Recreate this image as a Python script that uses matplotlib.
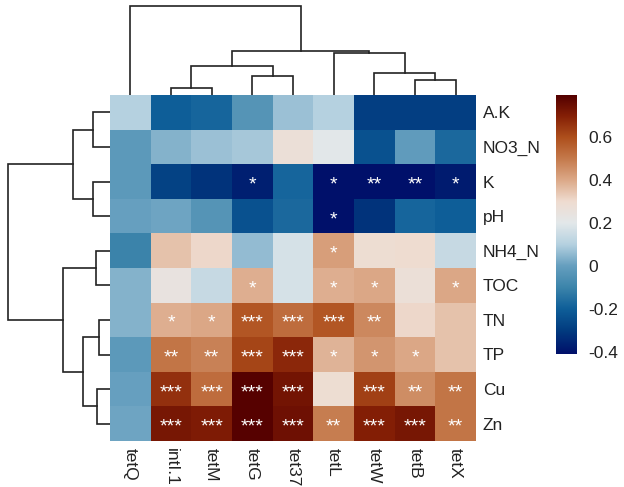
import numpy as np
import matplotlib
matplotlib.use('Agg')
import matplotlib.pyplot as plt
from matplotlib.colors import LinearSegmentedColormap

plt.rcParams['font.family'] = ['Liberation Sans', 'DejaVu Sans']

genes = ['tetQ', 'intI.1', 'tetM', 'tetG', 'tet37', 'tetL', 'tetW', 'tetB', 'tetX']
factors = ['A.K', 'NO3_N', 'K', 'pH', 'NH4_N', 'TOC', 'TN', 'TP', 'Cu', 'Zn']

corr = np.array([
    [0.10, -0.20, -0.18, -0.04, 0.07, 0.10, -0.29, -0.29, -0.29],
    [-0.02, 0.04, 0.07, 0.08, 0.27, 0.20, -0.24, -0.01, -0.17],
    [-0.02, -0.28, -0.32, -0.37, -0.18, -0.41, -0.41, -0.41, -0.38],
    [0.00, 0.01, -0.04, -0.24, -0.17, -0.41, -0.32, -0.18, -0.20],
    [-0.10, 0.35, 0.31, 0.06, 0.17, 0.42, 0.29, 0.30, 0.14],
    [0.04, 0.24, 0.14, 0.39, 0.17, 0.39, 0.40, 0.27, 0.40],
    [0.04, 0.39, 0.40, 0.58, 0.53, 0.58, 0.47, 0.31, 0.35],
    [-0.02, 0.51, 0.48, 0.62, 0.68, 0.38, 0.44, 0.40, 0.35],
    [0.00, 0.66, 0.53, 0.79, 0.73, 0.29, 0.63, 0.46, 0.51],
    [0.01, 0.72, 0.71, 0.79, 0.74, 0.49, 0.70, 0.72, 0.51],
])

stars = [
    ['', '', '', '', '', '', '', '', ''],
    ['', '', '', '', '', '', '', '', ''],
    ['', '', '', '*', '', '*', '**', '**', '*'],
    ['', '', '', '', '', '*', '', '', ''],
    ['', '', '', '', '', '*', '', '', ''],
    ['', '', '', '*', '', '*', '*', '', '*'],
    ['', '*', '*', '***', '***', '***', '**', '', ''],
    ['', '**', '**', '***', '***', '*', '*', '*', ''],
    ['', '***', '***', '***', '***', '', '***', '**', '**'],
    ['', '***', '***', '***', '***', '**', '***', '***', '**'],
]

# merges as (left, right, height); negative ids are leaves, others are earlier merges
col_merges = [(-2, -3, 7.5), (-4, -5, 19), (0, 1, 29), (-8, -9, 15), (-7, 3, 22),
              (-6, 4, 42), (2, 5, 44), (-1, 6, 89.5)]
row_merges = [(-1, -2, 17.5), (-3, -4, 17.5), (0, 1, 37), (-5, -6, 14.5), (-7, -8, 11.5),
              (-9, -10, 13), (4, 5, 27.5), (3, 6, 47), (2, 7, 102)]

W, H = 624, 487
vmin, vmax = -0.41, 0.795
cbar_ticks = [-0.4, -0.2, 0, 0.2, 0.4, 0.6]
cbar_labels = ['-0.4', '-0.2', '0', '0.2', '0.4', '0.6']
color_values = [-0.41, -0.3, -0.2, -0.1, 0.0, 0.1, 0.2, 0.3, 0.4, 0.5, 0.6, 0.7, 0.795]
color_stops = ['#00106a', '#023c80', '#0f5f99', '#3d85ab', '#669fbf', '#b5d1e0', '#e3e8ea',
               '#efdcd0', '#dca988', '#c57a4c', '#ae4f1c', '#841f06', '#540000']
cmap = LinearSegmentedColormap.from_list(
    'rb', [((v - vmin) / (vmax - vmin), c) for v, c in zip(color_values, color_stops)])


def axes_px(x0, y0, x1, y1):
    return fig.add_axes([x0 / W, 1 - y1 / H, (x1 - x0) / W, (y1 - y0) / H])


def tree_segments(merges):
    pos = []
    segs = []
    for a, b, h in merges:
        pa, ha = (-a - 1, 0) if a < 0 else pos[a]
        pb, hb = (-b - 1, 0) if b < 0 else pos[b]
        segs.append(([pa, pa, pb, pb], [ha, h, h, hb]))
        pos.append(((pa + pb) / 2, h))
    return segs


fig = plt.figure(figsize=(W / 100, H / 100), dpi=100)

ax = axes_px(110, 95, 476, 441)
ax.imshow(corr, cmap=cmap, vmin=vmin, vmax=vmax, aspect='auto', interpolation='nearest')
for i, row in enumerate(stars):
    for j, s in enumerate(row):
        if s:
            ax.text(j, i + 0.1, s, color='white', ha='center', va='center', fontsize=14)
ax.set_xticks(range(len(genes)))
ax.set_xticklabels(genes, rotation=270, fontsize=12.5, color='#222222')
ax.set_yticks(range(len(factors)))
ax.set_yticklabels(factors, fontsize=12.5, color='#222222')
ax.yaxis.tick_right()
ax.tick_params(length=0, pad=5)
for s in ax.spines.values():
    s.set_visible(False)

top = axes_px(110, 0, 476, 95)
for xs, ys in tree_segments(col_merges):
    top.plot(xs, ys, color='#222222', lw=1.2, solid_joinstyle='miter')
top.set_xlim(-0.5, len(genes) - 0.5)
top.set_ylim(0, 95)
top.axis('off')

left = axes_px(0, 95, 110, 441)
for ys, xs in tree_segments(row_merges):
    left.plot(xs, ys, color='#222222', lw=1.2, solid_joinstyle='miter')
left.set_xlim(110, 0)
left.set_ylim(len(factors) - 0.5, -0.5)
left.axis('off')

cax = axes_px(556, 95, 577, 354)
grad = np.linspace(vmax, vmin, 256).reshape(-1, 1)
cax.imshow(grad, cmap=cmap, vmin=vmin, vmax=vmax, aspect='auto',
           extent=[0, 1, vmin, vmax])
cax.set_xticks([])
cax.yaxis.tick_right()
cax.set_yticks(cbar_ticks)
cax.set_yticklabels(cbar_labels, fontsize=12.5, color='#222222')
cax.tick_params(length=0, pad=8)
for s in cax.spines.values():
    s.set_visible(False)

fig.savefig('out.png', dpi=100)
